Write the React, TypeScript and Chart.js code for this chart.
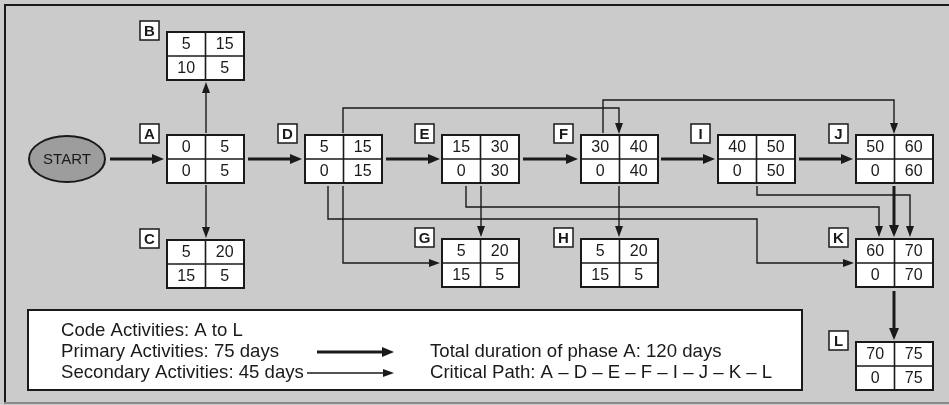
import React, { useEffect, useRef } from "react";
import { Chart, registerables } from "chart.js";

Chart.register(...registerables);

// ---- Data ----
const codes = ["A", "B", "C", "D", "E", "F", "G", "H", "I", "J", "K", "L"];
const earlyStart = [0, 5, 5, 5, 15, 30, 5, 5, 40, 50, 60, 70];
const earlyFinish = [5, 15, 20, 15, 30, 40, 20, 20, 50, 60, 70, 75];
const slack = [0, 10, 15, 0, 0, 0, 15, 15, 0, 0, 0, 0];
const lateFinish = [5, 5, 5, 15, 30, 40, 5, 5, 50, 60, 70, 75];

const legendLeft = [
  "Code Activities: A to L",
  "Primary Activities: 75 days",
  "Secondary Activities: 45 days",
];
const legendRight = [
  "Total duration of phase A: 120 days",
  "Critical Path: A – D – E – F – I – J – K – L",
];

// ---- Layout (positions in chart units) ----
const BOX_W = 77;
const BOX_H = 48;
const nodeX = [167, 167, 167, 305, 442, 581, 442, 581, 718, 856, 856, 856];
const nodeY = [135, 32, 240, 135, 135, 135, 239, 239, 135, 135, 239, 342];

type Pt = [number, number];
const thickEdges: Pt[][] = [
  [[110, 159], [164, 159]],
  [[248, 159], [302, 159]],
  [[386, 159], [440, 159]],
  [[523, 159], [578, 159]],
  [[661, 159], [715, 159]],
  [[799, 159], [853, 159]],
  [[894, 186], [894, 237]],
  [[894, 291], [894, 340]],
];
const thinEdges: Pt[][] = [
  [[206, 133], [206, 82]],
  [[206, 185], [206, 238]],
  [[343, 133], [343, 108], [619, 108], [619, 134]],
  [[603, 133], [603, 100], [894, 100], [894, 134]],
  [[343, 186], [343, 263], [440, 263]],
  [[328, 186], [328, 219], [757, 219], [757, 263], [854, 263]],
  [[481, 186], [481, 237]],
  [[466, 186], [466, 207], [879, 207], [879, 237]],
  [[619, 186], [619, 237]],
  [[757, 186], [757, 195], [910, 195], [910, 237]],
];

const FONT = "'Liberation Sans', Arial, Helvetica, sans-serif";
const INK = "#1a1a1a";

const diagramPlugin = {
  id: "diagram",
  beforeDraw(chart: any) {
    const ctx: CanvasRenderingContext2D = chart.ctx;
    const xs = chart.scales.x;
    const ys = chart.scales.y;
    const X = (v: number) => xs.getPixelForValue(v);
    const Y = (v: number) => ys.getPixelForValue(v);

    ctx.save();
    // background
    ctx.fillStyle = "#cbcbcb";
    ctx.fillRect(X(0), Y(0), X(949) - X(0), Y(405) - Y(0));
    // frame
    ctx.strokeStyle = INK;
    ctx.lineWidth = 2;
    ctx.beginPath();
    ctx.moveTo(X(5), Y(403));
    ctx.lineTo(X(5), Y(5));
    ctx.lineTo(X(949), Y(5));
    ctx.stroke();
    ctx.strokeStyle = "#8a8a8a";
    ctx.lineWidth = 2;
    ctx.beginPath();
    ctx.moveTo(X(4), Y(403));
    ctx.lineTo(X(949), Y(403));
    ctx.stroke();

    const arrow = (pts: Pt[], lw: number, hl: number, hw: number) => {
      const n = pts.length;
      const [tx, ty] = pts[n - 1];
      const [px, py] = pts[n - 2];
      const dx = tx - px, dy = ty - py;
      const len = Math.hypot(dx, dy);
      const ux = dx / len, uy = dy / len;
      ctx.strokeStyle = INK;
      ctx.fillStyle = INK;
      ctx.lineWidth = lw;
      ctx.lineJoin = "miter";
      ctx.beginPath();
      ctx.moveTo(X(pts[0][0]), Y(pts[0][1]));
      for (let i = 1; i < n - 1; i++) ctx.lineTo(X(pts[i][0]), Y(pts[i][1]));
      ctx.lineTo(X(tx - ux * hl * 0.8), Y(ty - uy * hl * 0.8));
      ctx.stroke();
      const bx = tx - ux * hl, by = ty - uy * hl;
      ctx.beginPath();
      ctx.moveTo(X(tx), Y(ty));
      ctx.lineTo(X(bx - uy * hw / 2), Y(by + ux * hw / 2));
      ctx.lineTo(X(bx + uy * hw / 2), Y(by - ux * hw / 2));
      ctx.closePath();
      ctx.fill();
    };

    // edges
    thinEdges.forEach((e) => arrow(e, 1.4, 11, 8));
    thickEdges.forEach((e) => arrow(e, 3, 12, 10));

    // START ellipse
    ctx.beginPath();
    ctx.ellipse(X(67), Y(159), 38, 23, 0, 0, Math.PI * 2);
    ctx.fillStyle = "#9d9d9d";
    ctx.fill();
    ctx.lineWidth = 2;
    ctx.strokeStyle = INK;
    ctx.stroke();
    ctx.fillStyle = INK;
    ctx.font = `15px ${FONT}`;
    ctx.textAlign = "center";
    ctx.textBaseline = "middle";
    ctx.fillText("START", X(67), Y(160));

    // nodes
    codes.forEach((code, i) => {
      const x0 = X(nodeX[i]), y0 = Y(nodeY[i]);
      const x1 = X(nodeX[i] + BOX_W), y1 = Y(nodeY[i] + BOX_H);
      const xm = (x0 + x1) / 2, ym = (y0 + y1) / 2;
      ctx.fillStyle = "#ffffff";
      ctx.fillRect(x0, y0, x1 - x0, y1 - y0);
      ctx.strokeStyle = INK;
      ctx.lineWidth = 2;
      ctx.strokeRect(x0, y0, x1 - x0, y1 - y0);
      ctx.lineWidth = 1.6;
      ctx.beginPath();
      ctx.moveTo(xm, y0);
      ctx.lineTo(xm, y1);
      ctx.moveTo(x0, ym);
      ctx.lineTo(x1, ym);
      ctx.stroke();
      ctx.fillStyle = INK;
      ctx.font = `16px ${FONT}`;
      ctx.textAlign = "center";
      ctx.textBaseline = "middle";
      const r1 = (y0 + ym) / 2 + 1, r2 = (ym + y1) / 2 + 1;
      ctx.fillText(String(earlyStart[i]), (x0 + xm) / 2, r1);
      ctx.fillText(String(earlyFinish[i]), (xm + x1) / 2, r1);
      ctx.fillText(String(slack[i]), (x0 + xm) / 2, r2);
      ctx.fillText(String(lateFinish[i]), (xm + x1) / 2, r2);
      // code label
      const lx = X(nodeX[i] - 27), ly = Y(nodeY[i] - 11);
      ctx.fillStyle = "#ffffff";
      ctx.fillRect(lx, ly, 19, 19);
      ctx.lineWidth = 1.5;
      ctx.strokeRect(lx, ly, 19, 19);
      ctx.fillStyle = INK;
      ctx.font = `bold 15px ${FONT}`;
      ctx.fillText(code, lx + 9.5, ly + 10.5);
    });

    // legend box
    const gx0 = X(28), gy0 = Y(310), gx1 = X(802), gy1 = Y(390);
    ctx.fillStyle = "#ffffff";
    ctx.fillRect(gx0, gy0, gx1 - gx0, gy1 - gy0);
    ctx.strokeStyle = INK;
    ctx.lineWidth = 2;
    ctx.strokeRect(gx0, gy0, gx1 - gx0, gy1 - gy0);
    ctx.fillStyle = INK;
    ctx.font = `18.6px ${FONT}`;
    ctx.textAlign = "left";
    ctx.textBaseline = "middle";
    const rowsY = [330, 351, 372];
    legendLeft.forEach((t, i) => ctx.fillText(t, X(61), Y(rowsY[i]) + 1));
    legendRight.forEach((t, i) => ctx.fillText(t, X(430), Y(rowsY[i + 1]) + 1));
    arrow([[317, 352], [394, 352]], 3, 12, 10);
    arrow([[307, 373], [394, 373]], 1.4, 11, 8);
    ctx.restore();
  },
};

export default function App() {
  const ref = useRef<HTMLCanvasElement>(null);
  useEffect(() => {
    const canvas = ref.current;
    if (!canvas) return;
    const chart = new Chart(canvas, {
      type: "scatter",
      data: {
        datasets: [
          {
            label: "Activities",
            data: codes.map((_, i) => ({ x: nodeX[i] + BOX_W / 2, y: nodeY[i] + BOX_H / 2 })),
            pointRadius: 0,
            pointHoverRadius: 0,
          },
        ],
      },
      options: {
        animation: false,
        responsive: false,
        devicePixelRatio: 1,
        layout: { padding: 0 },
        events: [],
        scales: {
          x: { type: "linear", min: 0, max: 949, display: false },
          y: { type: "linear", min: 0, max: 405, reverse: true, display: false },
        },
        plugins: { legend: { display: false }, tooltip: { enabled: false }, title: { display: false } },
      },
      plugins: [diagramPlugin],
    });
    return () => chart.destroy();
  }, []);
  return (
    <div style={{ position: "fixed", left: 0, top: 0, width: 949, height: 405 }}>
      <canvas ref={ref} width={949} height={405} style={{ display: "block", width: 949, height: 405 }} />
    </div>
  );
}
